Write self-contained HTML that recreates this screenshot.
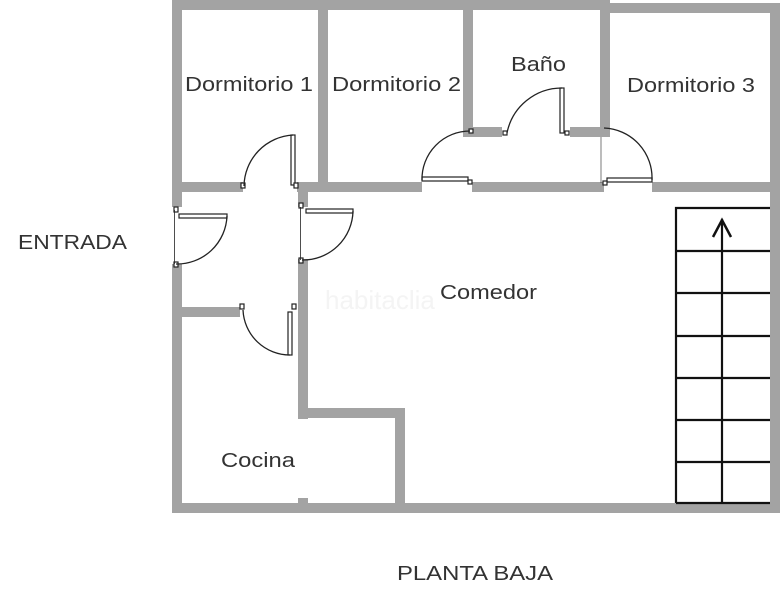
<!DOCTYPE html>
<html><head><meta charset="utf-8"><style>
html,body{margin:0;padding:0;background:#fff;width:780px;height:600px;overflow:hidden}
svg{display:block}
text{font-family:"Liberation Sans",sans-serif;fill:#333;font-size:20px}
</style></head><body>
<svg width="780" height="600" viewBox="0 0 780 600">
<g fill="#a3a3a3">
<rect x="172" y="0" width="10" height="207"/>
<rect x="172" y="264" width="10" height="249"/>
<rect x="172" y="0" width="438" height="10"/>
<rect x="600" y="3" width="180" height="10"/>
<rect x="770" y="3" width="10" height="510"/>
<rect x="172" y="503" width="608" height="10"/>
<rect x="318" y="0" width="10" height="187"/>
<rect x="463" y="0" width="10" height="137"/>
<rect x="600" y="0" width="10" height="137"/>
<rect x="463" y="127" width="39" height="10"/>
<rect x="570" y="127" width="40" height="10"/>
<rect x="172" y="182" width="71" height="10"/>
<rect x="297" y="182" width="125" height="10"/>
<rect x="472" y="182" width="132" height="10"/>
<rect x="652" y="182" width="118" height="10"/>
<rect x="298" y="182" width="10" height="25"/>
<rect x="298" y="259" width="10" height="160"/>
<rect x="298" y="408" width="107" height="10"/>
<rect x="395" y="408" width="10" height="100"/>
<rect x="298" y="498" width="10" height="10"/>
<rect x="172" y="307" width="68" height="10"/>
</g>
<g fill="#fff" stroke="#222" stroke-width="1.2">
<rect x="291" y="135" width="4" height="50"/>
<rect x="422" y="177" width="46" height="4"/>
<rect x="560" y="88" width="4" height="45"/>
<rect x="607" y="178" width="45" height="4"/>
<rect x="179" y="214" width="48" height="4"/>
<rect x="306" y="209" width="47" height="4"/>
<rect x="288" y="312" width="4" height="43"/>
<rect x="241" y="183" width="4" height="5"/>
<rect x="294" y="183" width="4" height="5"/>
<rect x="468" y="180" width="4" height="4"/>
<rect x="469" y="129" width="4" height="4"/>
<rect x="503" y="131" width="4" height="4"/>
<rect x="565" y="131" width="4" height="4"/>
<rect x="603" y="181" width="4" height="4"/>
<rect x="174" y="207" width="4" height="5"/>
<rect x="174" y="262" width="4" height="5"/>
<rect x="299" y="203" width="4" height="5"/>
<rect x="299" y="258" width="4" height="5"/>
<rect x="240" y="304" width="4" height="5"/>
<rect x="292" y="304" width="4" height="5"/>
</g>
<g fill="none" stroke="#222" stroke-width="1.3">
<path d="M244 186 A52 52 0 0 1 293 135"/>
<path d="M422 180 A48 48 0 0 1 470 131"/>
<path d="M507 133 A56 56 0 0 1 562 88"/>
<path d="M604 128 A50 50 0 0 1 652 180"/>
<path d="M227 216 A50 50 0 0 1 176 264"/>
<path d="M353 211 A50 50 0 0 1 302 260"/>
<path d="M243 310 A47 47 0 0 0 290 355"/>
<line x1="174.5" y1="210" x2="174.5" y2="264" stroke-width="0.8"/>
<line x1="300.5" y1="207" x2="300.5" y2="260" stroke-width="0.8"/>
<line x1="601" y1="137" x2="601" y2="183" stroke-width="0.6"/>
</g>
<g stroke="#111" stroke-width="2.2" fill="none">
<path d="M676 503 V208 H770"/>
<line x1="722" y1="219" x2="722" y2="503"/>
<line x1="676" y1="251" x2="770" y2="251"/>
<line x1="676" y1="293" x2="770" y2="293"/>
<line x1="676" y1="336" x2="770" y2="336"/>
<line x1="676" y1="378" x2="770" y2="378"/>
<line x1="676" y1="420" x2="770" y2="420"/>
<line x1="676" y1="462" x2="770" y2="462"/>
<line x1="676" y1="503" x2="770" y2="503"/>
<path d="M713 237 L722 220 L731 237" stroke-width="2.5"/>
</g>
<text x="185" y="91" textLength="128" lengthAdjust="spacingAndGlyphs">Dormitorio 1</text>
<text x="332" y="91" textLength="129" lengthAdjust="spacingAndGlyphs">Dormitorio 2</text>
<text x="511" y="71" textLength="55" lengthAdjust="spacingAndGlyphs">Baño</text>
<text x="627" y="92" textLength="128" lengthAdjust="spacingAndGlyphs">Dormitorio 3</text>
<text x="18" y="249" textLength="109" lengthAdjust="spacingAndGlyphs">ENTRADA</text>
<text x="440" y="299" textLength="97" lengthAdjust="spacingAndGlyphs">Comedor</text>
<text x="221" y="467" textLength="74" lengthAdjust="spacingAndGlyphs">Cocina</text>
<text x="397" y="580" textLength="156" lengthAdjust="spacingAndGlyphs">PLANTA BAJA</text>
<text x="325" y="309" style="fill:#f4f4f4;font-size:26px">habitaclia</text>
</svg>
</body></html>
